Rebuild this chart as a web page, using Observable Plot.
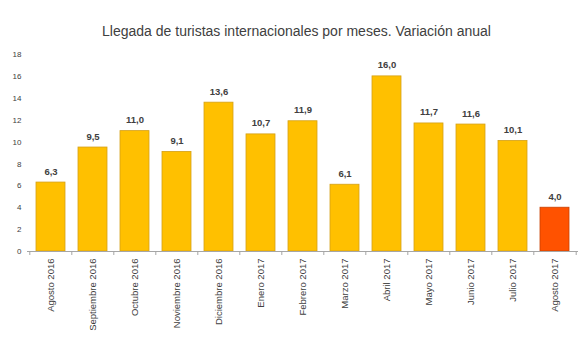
<!DOCTYPE html>
<html>
<head>
<meta charset="utf-8">
<script src="https://cdn.jsdelivr.net/npm/d3@7"></script>
<script src="https://cdn.jsdelivr.net/npm/@observablehq/plot@0.6"></script>
<style>
  html, body { margin: 0; padding: 0; background: #fff; }
  #wrap { width: 585px; height: 351px; overflow: hidden; font-family: "Liberation Sans", Arial, sans-serif; }
  #title { height: 44px; box-sizing: border-box; padding-top: 22px; text-align: center; font-size: 14px; color: #404040; line-height: 18px; padding-left: 8px; }
  svg { display: block; }
</style>
</head>
<body>
<div id="wrap">
  <div id="title">Llegada de turistas internacionales por meses. Variación anual</div>
  <div id="chart"></div>
</div>
<script>
const months = ["Agosto 2016","Septiembre 2016","Octubre 2016","Noviembre 2016","Diciembre 2016","Enero 2017","Febrero 2017","Marzo 2017","Abril 2017","Mayo 2017","Junio 2017","Julio 2017","Agosto 2017"];
const values = [6.3, 9.5, 11.0, 9.1, 13.6, 10.7, 11.9, 6.1, 16.0, 11.7, 11.6, 10.1, 4.0];
const highlight = [false,false,false,false,false,false,false,false,false,false,false,false,true];
const yTicks = [0,2,4,6,8,10,12,14,16,18];

const data = months.map((m, i) => ({month: m, value: values[i], hl: highlight[i]}));

const W = 585, H = 307, mL = 27, mR = 7;
const step = (W - mL - mR) / months.length;

const chart = Plot.plot({
  width: W,
  height: H,
  marginTop: 10,
  marginBottom: 100,
  marginLeft: mL,
  marginRight: mR,
  style: {fontFamily: "'Liberation Sans', Arial, sans-serif", background: "#fff"},
  x: {domain: months, paddingInner: 0.32, paddingOuter: 0.16, label: null},
  y: {domain: [0, 18], label: null},
  marks: [
    Plot.barY(data, {
      x: "month", y: "value",
      fill: d => d.hl ? "#FF5200" : "#FFC000",
      stroke: d => d.hl ? "#C84000" : "#D4A017",
      strokeWidth: 0.8
    }),
    Plot.ruleY([0], {stroke: "#a6a6a6", strokeWidth: 1}),
    Plot.ruleX(months, {x: d => d, y1: 0, y2: 0, insetBottom: -4, dx: -step / 2, stroke: "#a6a6a6"}),
    Plot.ruleX([months[months.length - 1]], {x: d => d, y1: 0, y2: 0, insetBottom: -4, dx: step / 2, stroke: "#a6a6a6"}),
    Plot.text(data, {
      x: "month", y: "value",
      text: d => d.value.toFixed(1).replace(".", ","),
      dy: -11, fontSize: 9.5, fontWeight: "bold", fill: "#404040"
    }),
    Plot.axisX({tickSize: 0, tickRotate: -90, tickPadding: 7, fontSize: 9.5, color: "#404040", label: null}),
    Plot.axisY(yTicks, {tickSize: 0, tickPadding: 6, fontSize: 8, color: "#404040", label: null})
  ]
});
document.getElementById("chart").appendChild(chart);
</script>
</body>
</html>
